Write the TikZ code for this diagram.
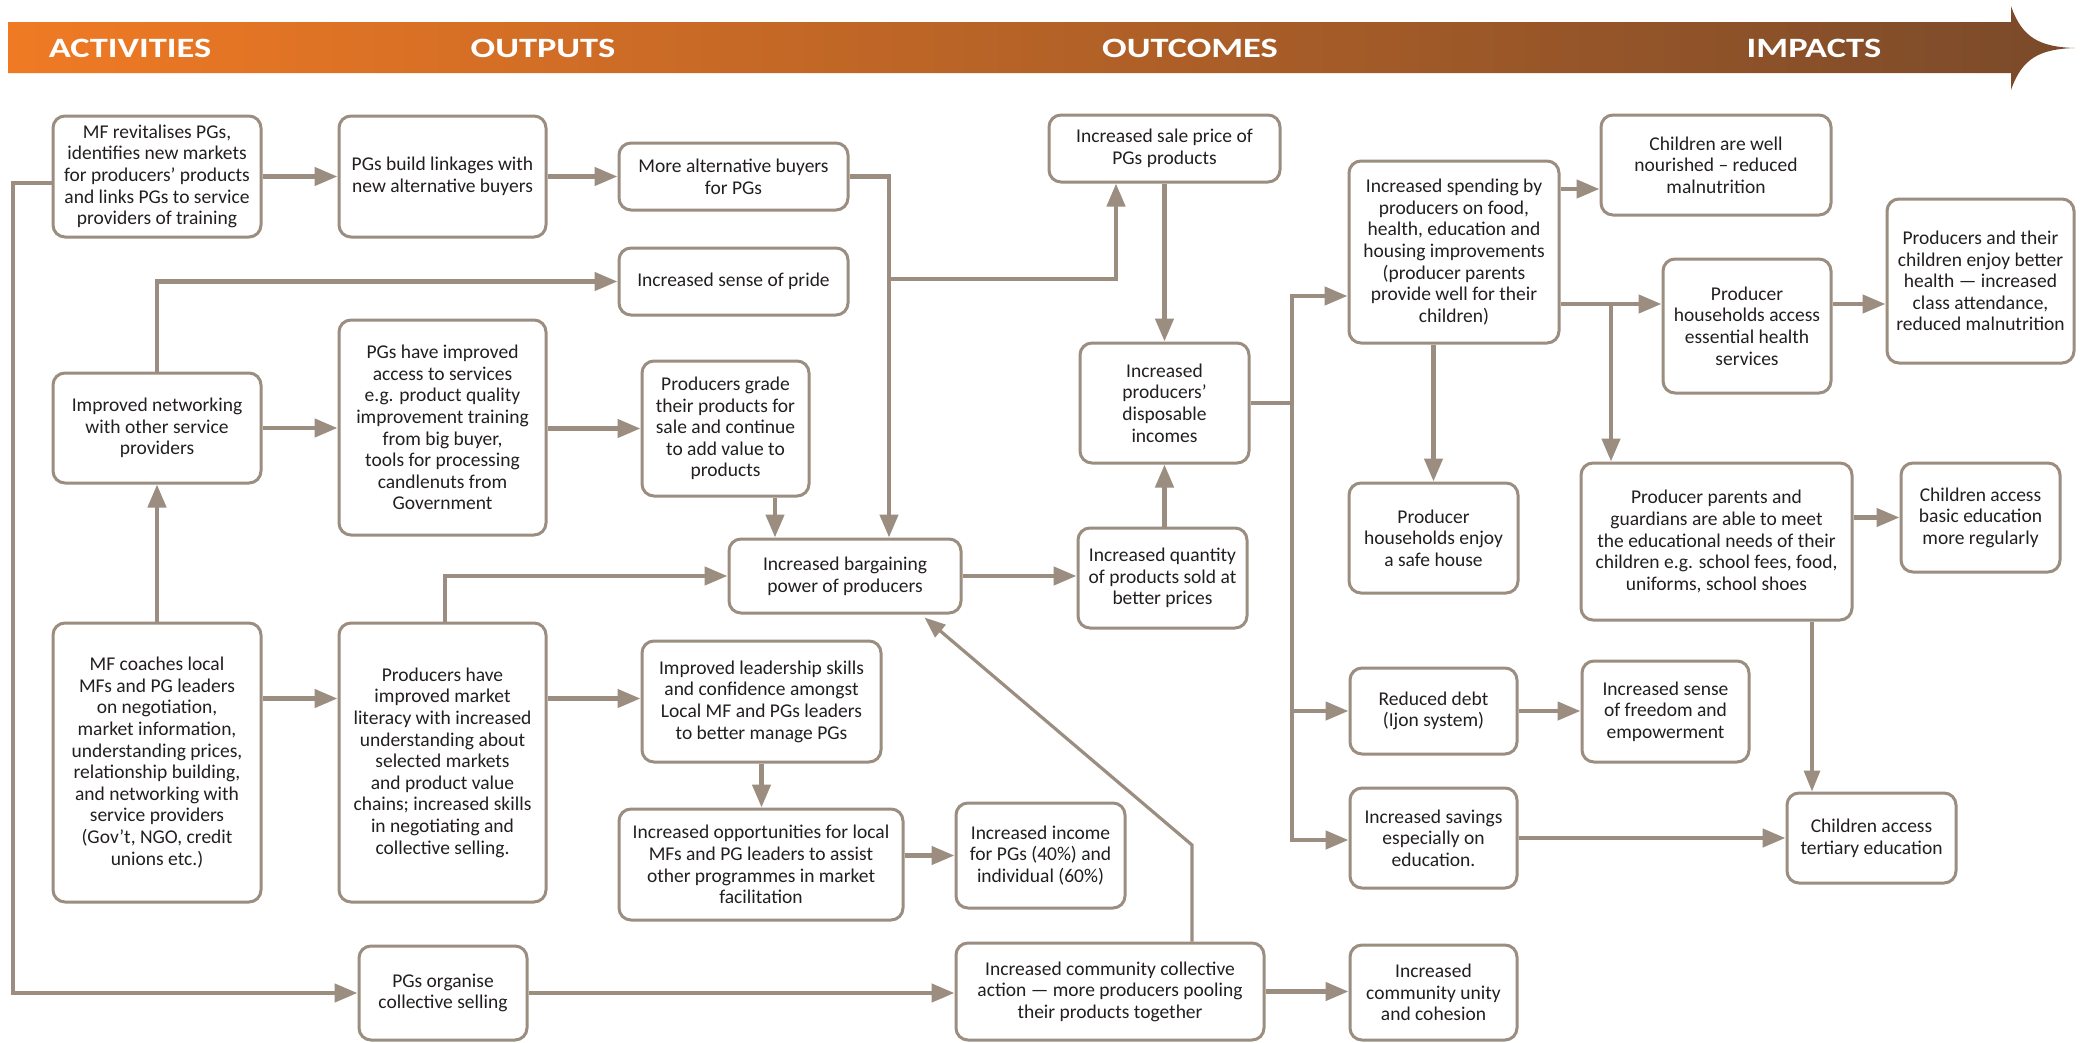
\documentclass[tikz,border=0pt]{standalone}
\usepackage{fontspec}
\usepackage{graphicx}
\setmainfont{Carlito}
\usetikzlibrary{arrows.meta,calc}
\definecolor{lc}{RGB}{155,141,128}
\definecolor{hL}{RGB}{240,122,36}
\definecolor{hR}{RGB}{122,74,42}
\definecolor{tx}{RGB}{35,31,32}
\newcommand{\hw}[1]{\scalebox{1.3}[1]{#1}}
\begin{document}
\begin{tikzpicture}[x=1pt,y=-1pt,
 nbox/.style={draw=lc, line width=3pt, rounded corners=12pt, align=center, inner sep=0pt, font=\fontsize{19.5}{21.6}\selectfont, text=tx},
 arr/.style={draw=lc, line width=4.5pt, -{Triangle[length=23pt,width=18pt]}},
 tarr/.style={draw=lc, line width=3.2pt, -{Triangle[length=21pt,width=16pt]}},
 ln/.style={draw=lc, line width=4.5pt},
 htext/.style={text=white, font=\fontsize{28}{32}\selectfont\bfseries, inner sep=0pt}]
\useasboundingbox (0,0) rectangle (2080,1042);
\fill[white] (0,0) rectangle (2080,1042);
% header arrow
\shade[left color=hL, right color=hR] (8,22) -- (2011,22) -- (2011,6) .. controls (2022,38) and (2040,47) .. (2075,48) .. controls (2040,49) and (2022,58) .. (2011,90) -- (2011,73) -- (8,73) -- cycle;
\node[htext] (hA) at (130,48) {\hw{ACTIVITIES}};
\node[htext] (hB) at (543,48) {\hw{OUTPUTS}};
\node[htext] (hC) at (1190,48) {\hw{OUTCOMES}};
\node[htext] (hD) at (1814,48) {\hw{IMPACTS}};

% boxes
\node[nbox, minimum width=208, minimum height=121] (b1) at (157,176.5) {MF revitalises PGs,\\identifies new markets\\for producers’ products\\and links PGs to service\\providers of training};
\node[nbox, minimum width=207, minimum height=121] (b2) at (442.5,176.5) {PGs build linkages with\\new alternative buyers};
\node[nbox, minimum width=229, minimum height=67] (b3) at (733.5,176.5) {More alternative buyers\\for PGs};
\node[nbox, minimum width=229, minimum height=67] (pride) at (733.5,281.5) {Increased sense of pride};
\node[nbox, minimum width=208, minimum height=110] (b5) at (157,428) {Improved networking\\with other service\\providers};
\node[nbox, minimum width=207, minimum height=215] (b6) at (442.5,427.5) {PGs have improved\\access to services\\e.g. product quality\\improvement training\\from big buyer,\\tools for processing\\candlenuts from\\Government};
\node[nbox, minimum width=167, minimum height=135] (b7) at (725.5,428.5) {Producers grade\\their products for\\sale and continue\\to add value to\\products};
\node[nbox, minimum width=232, minimum height=74] (bargain) at (845,576) {Increased bargaining\\power of producers};
\node[nbox, minimum width=208, minimum height=279] (b9) at (157,762.5) {MF coaches local\\MFs and PG leaders\\on negotiation,\\market information,\\understanding prices,\\relationship building,\\and networking with\\service providers\\(Gov’t, NGO, credit\\unions etc.)};
\node[nbox, minimum width=207, minimum height=279] (b10) at (442.5,762.5) {Producers have\\improved market\\literacy with increased\\understanding about\\selected markets\\and product value\\chains; increased skills\\in negotiating and\\collective selling.};
\node[nbox, minimum width=239, minimum height=121] (b11) at (761.5,701.5) {Improved leadership skills\\and confidence amongst\\Local MF and PGs leaders\\to better manage PGs};
\node[nbox, minimum width=284, minimum height=111] (b12) at (761,864.5) {Increased opportunities for local\\MFs and PG leaders to assist\\other programmes in market\\facilitation};
\node[nbox, minimum width=168, minimum height=94] (b13) at (443,993) {PGs organise\\collective selling};
\node[nbox, minimum width=231, minimum height=67] (sale) at (1164.5,148.5) {Increased sale price of\\PGs products};
\node[nbox, minimum width=169, minimum height=120] (incomes) at (1164.5,403) {Increased\\producers’\\disposable\\incomes};
\node[nbox, minimum width=169, minimum height=100] (quantity) at (1162.5,578) {Increased quantity\\of products sold at\\better prices};
\node[nbox, minimum width=169, minimum height=105] (income40) at (1040.5,855.5) {Increased income\\for PGs (40\%) and\\individual (60\%)};
\node[nbox, minimum width=308, minimum height=97] (action) at (1110,991.5) {Increased community collective\\action — more producers pooling\\their products together};
\node[nbox, minimum width=210, minimum height=182] (spending) at (1454,252) {Increased spending by\\producers on food,\\health, education and\\housing improvements\\(producer parents\\provide well for their\\children)};
\node[nbox, minimum width=169, minimum height=110] (safehouse) at (1433.5,538) {Producer\\households enjoy\\a safe house};
\node[nbox, minimum width=167, minimum height=86] (debt) at (1433.5,711) {Reduced debt\\(Ijon system)};
\node[nbox, minimum width=167, minimum height=100] (savings) at (1433.5,838) {Increased savings\\especially on\\education.};
\node[nbox, minimum width=167, minimum height=95] (unity) at (1433.5,992.5) {Increased\\community unity\\and cohesion};
\node[nbox, minimum width=167, minimum height=101] (freedom) at (1665.5,711.5) {Increased sense\\of freedom and\\empowerment};
\node[nbox, minimum width=230, minimum height=100] (nourished) at (1716,165) {Children are well\\nourished – reduced\\malnutrition};
\node[nbox, minimum width=168, minimum height=134] (healthsvc) at (1747,326) {Producer\\households access\\essential health\\services};
\node[nbox, minimum width=187, minimum height=164] (betterhealth) at (1980.5,281) {Producers and their\\children enjoy better\\health — increased\\class attendance,\\reduced malnutrition};
\node[nbox, minimum width=271, minimum height=157] (parents) at (1716.5,541.5) {Producer parents and\\guardians are able to meet\\the educational needs of their\\children e.g. school fees, food,\\uniforms, school shoes};
\node[nbox, minimum width=159, minimum height=109] (basicedu) at (1980.5,517.5) {Children access\\basic education\\more regularly};
\node[nbox, minimum width=169, minimum height=90] (tertiary) at (1871.5,838) {Children access\\tertiary education};

% junction coordinates
\coordinate (jA) at (889,279);
\coordinate (jB) at (1116,279);
\coordinate (jL) at (13,183);
\coordinate (jD) at (1192,845);
\coordinate (jV) at (1292,403);
\coordinate (jH) at (1611,304);
\coordinate (nIn) at ([yshift=-24pt]nourished.west);
\coordinate (hIn) at ([yshift=22pt]healthsvc.west);
\coordinate (sIn) at ([yshift=-44pt]spending.west);

% connectors
\draw[arr] (b1) -- (b2);
\draw[arr] (b2) -- (b3);
\draw[arr] (b3.east) -| (jA) -- (jA |- bargain.north);
\draw[arr] (jA) -- (jB) -- (jB |- sale.south);
\draw[arr] ([yshift=-6.5pt]b1.west) -- (jL) |- (b13.west);
\draw[arr] (b9.north) -- (b5.south);
\draw[arr] (b5.north) |- (pride.west);
\draw[arr] (b5.east) -- (b5.east -| b6.west);
\draw[arr] (b6.east |- b7.west) -- (b7.west);
\draw[arr] ([xshift=49.5pt]b7.south) -- ([xshift=49.5pt]b7.south |- bargain.north);
\draw[arr] ([xshift=2.5pt]b10.north) |- (bargain.west);
\draw[arr] ([yshift=3pt]b9.east |- b11.west) -- ([yshift=3pt]b10.west |- b11.west);
\draw[arr] ([yshift=3pt]b10.east |- b11.west) -- ([yshift=3pt]b11.west);
\draw[arr] (b11.south) -- (b11.south |- b12.north);
\draw[arr] (b12.east |- income40.west) -- (income40.west);
\draw[arr] (b13.east) -- (b13.east -| action.west);
\draw[arr] (action.east) -- (action.east -| unity.west);
\draw[tarr] (action.north -| jD) -- (jD) -- ([xshift=-38pt,yshift=-3pt]bargain.south east);
\draw[arr] (bargain.east) -- (bargain.east -| quantity.west);
\draw[arr] (incomes.south |- quantity.north) -- (incomes.south);
\draw[arr] (sale.south) -- (incomes.north);
\draw[ln] (incomes.east) -- (jV);
\draw[arr] (jV) |- (sIn);
\draw[arr] (jV) |- (debt.west);
\draw[arr] (jV) |- ([yshift=-2pt]savings.west);
\draw[arr] (safehouse.north |- spending.south) -- (safehouse.north);
\draw[arr] (spending.east |- nIn) -- (nIn);
\draw[arr] (spending.east |- hIn) -- (hIn);
\draw[arr] (jH) -- (jH |- parents.north);
\draw[arr] (healthsvc.east |- hIn) -- (betterhealth.west |- hIn);
\draw[arr] (parents.east |- basicedu.west) -- (basicedu.west);
\draw[tarr] ([xshift=95.5pt]parents.south) -- ([xshift=95.5pt]parents.south |- tertiary.north);
\draw[arr] (debt.east) -- (debt.east -| freedom.west);
\draw[arr] (savings.east) -- (savings.east -| tertiary.west);
\end{tikzpicture}
\end{document}
